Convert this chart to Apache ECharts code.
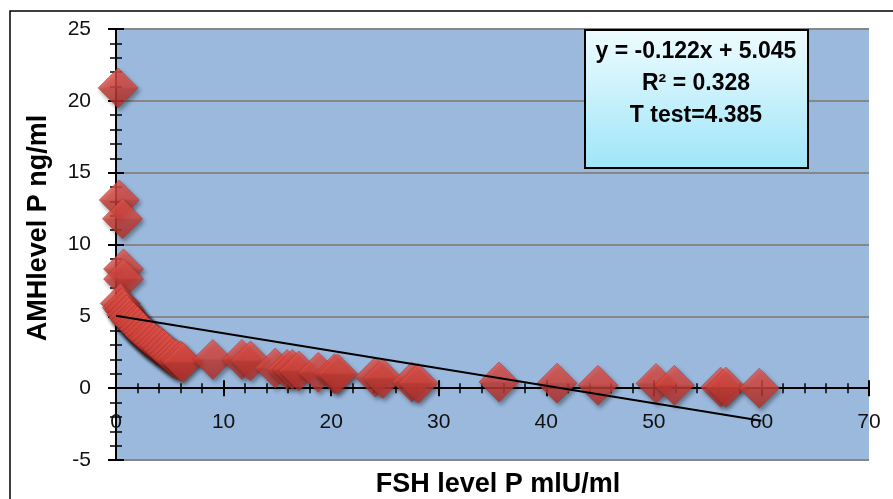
<!DOCTYPE html>
<html>
<head>
<meta charset="utf-8">
<script src="https://cdn.jsdelivr.net/npm/echarts@6/dist/echarts.min.js"></script>
<style>html,body{margin:0;padding:0;background:#fff}#c{width:893px;height:499px}</style>
</head>
<body>
<div id="c"></div>
<script>
// FSH (x) and AMH (y) values
var fshValues = [0.2, 0.3, 0.6, 0.7, 0.7,
  0.4, 0.6, 0.8, 1.0, 1.2, 1.4, 1.6, 1.8, 2.0, 2.2, 2.5, 2.7, 3.0, 3.2, 3.5, 3.8, 4.1, 4.4, 4.7, 5.0, 5.3, 5.6, 6.0, 6.2,
  9.0, 11.7, 12.5, 14.8, 15.9, 16.4, 17.0, 18.8, 20.3, 20.6, 24.1, 24.8, 27.5, 28.1, 35.6, 41.0, 44.8, 50.2, 51.9, 56.2, 56.7, 59.8];
var amhValues = [20.9, 13.1, 11.8, 8.3, 7.6,
  5.9, 5.6, 5.4, 5.1, 4.9, 4.7, 4.6, 4.4, 4.3, 4.1, 3.9, 3.7, 3.5, 3.4, 3.2, 3.0, 2.9, 2.7, 2.5, 2.3, 2.1, 2.0, 1.9, 1.8,
  2.0, 2.0, 1.9, 1.4, 1.3, 1.3, 1.2, 1.1, 1.0, 1.0, 0.77, 0.68, 0.43, 0.35, 0.43, 0.35, 0.2, 0.33, 0.2, 0.07, 0.07, 0.0];
// Linear trend line end points (y = -0.122x + 5.045)
var trendX = [0, 60];
var trendY = [5.045, -2.275];
var annotationLines = ['y = -0.122x + 5.045', 'R\u00b2 = 0.328', 'T test=4.385'];
var xTitle = 'FSH level P mlU/ml';
var yTitle = 'AMHlevel P ng/ml';

var scatterData = fshValues.map(function (x, i) { return [x, amhValues[i]]; });
var trendData = trendX.map(function (x, i) { return [x, trendY[i]]; });

var chart = echarts.init(document.getElementById('c'), null, {renderer: 'canvas'});
var FONT = 'Liberation Sans';
var baseX = {
  type: 'value', min: 0, max: 70, interval: 10,
  splitLine: {show: false}
};
var baseY = {
  type: 'value', min: -5, max: 25, interval: 5
};
var lineOnZero = {show: true, onZero: true, onZeroAxisIndex: 0, lineStyle: {color: '#000', width: 2}};
var option = {
  animation: false,
  backgroundColor: '#ffffff',
  grid: {left: 116, right: 24, top: 29, bottom: 39, show: true, backgroundColor: '#9bb9dd', borderWidth: 0},
  xAxis: [
    // labels only, raised next to the zero line
    Object.assign({}, baseX, {
      position: 'bottom',
      axisLine: {show: false, onZero: false},
      axisTick: {show: false},
      axisLabel: {show: true, margin: -48, color: '#111', fontFamily: FONT, fontSize: 21}
    }),
    Object.assign({}, baseX, {
      position: 'bottom',
      axisLine: lineOnZero,
      axisTick: {show: true, length: 8, lineStyle: {color: '#000', width: 2}},
      minorTick: {show: true, splitNumber: 5, length: 5, lineStyle: {color: '#000', width: 1.5}},
      axisLabel: {show: false}
    }),
    Object.assign({}, baseX, {
      position: 'top',
      axisLine: lineOnZero,
      axisTick: {show: true, length: 8, lineStyle: {color: '#000', width: 2}},
      minorTick: {show: true, splitNumber: 5, length: 5, lineStyle: {color: '#000', width: 1.5}},
      axisLabel: {show: false}
    })
  ],
  yAxis: [
    Object.assign({}, baseY, {
      position: 'left',
      axisLine: lineOnZero,
      axisTick: {show: true, length: 8, lineStyle: {color: '#000', width: 2}},
      minorTick: {show: true, splitNumber: 5, length: 6, lineStyle: {color: '#000', width: 1.5}},
      axisLabel: {show: true, margin: 25, color: '#111', fontFamily: FONT, fontSize: 21},
      splitLine: {show: true, lineStyle: {color: '#878787', width: 2}}
    }),
    Object.assign({}, baseY, {
      position: 'right',
      axisLine: lineOnZero,
      axisTick: {show: true, length: 8, lineStyle: {color: '#000', width: 2}},
      minorTick: {show: true, splitNumber: 5, length: 6, lineStyle: {color: '#000', width: 1.5}},
      axisLabel: {show: false},
      splitLine: {show: false}
    })
  ],
  series: [
    {
      type: 'scatter', xAxisIndex: 0, yAxisIndex: 0, clip: false, z: 3,
      symbol: 'diamond', symbolSize: 40,
      itemStyle: {
        color: new echarts.graphic.LinearGradient(0, 0, 0, 1, [
          {offset: 0, color: '#e8554d'},
          {offset: 0.48, color: '#da4840'},
          {offset: 0.52, color: '#c83d36'},
          {offset: 1, color: '#b4312c'}
        ]),
        borderColor: '#a52e28', borderWidth: 0.6,
        shadowBlur: 4, shadowColor: 'rgba(0,0,0,0.45)', shadowOffsetX: 2, shadowOffsetY: 3
      },
      data: scatterData
    },
    {
      type: 'line', xAxisIndex: 0, yAxisIndex: 0, z: 5, showSymbol: false, symbol: 'none',
      lineStyle: {color: '#000', width: 2},
      data: trendData
    }
  ],
  graphic: [
    {type: 'rect', z: 100, silent: true, shape: {x: 10, y: 11, width: 900, height: 500},
     style: {fill: 'none', stroke: '#000', lineWidth: 1.5}},
    {type: 'rect', z: 100, shape: {x: 585, y: 30, width: 223, height: 138},
     style: {
       fill: new echarts.graphic.LinearGradient(0, 0, 0, 1, [
         {offset: 0, color: '#effcff'}, {offset: 1, color: '#9ee5f8'}
       ]),
       stroke: '#000', lineWidth: 2
     }},
    {type: 'text', z: 101, x: 696, y: 52, style: {text: annotationLines[0], font: 'bold 23px "Liberation Sans"', fill: '#000', textAlign: 'center', textVerticalAlign: 'middle'}},
    {type: 'text', z: 101, x: 696, y: 84, style: {text: annotationLines[1], font: 'bold 23px "Liberation Sans"', fill: '#000', textAlign: 'center', textVerticalAlign: 'middle'}},
    {type: 'text', z: 101, x: 696, y: 116, style: {text: annotationLines[2], font: 'bold 23px "Liberation Sans"', fill: '#000', textAlign: 'center', textVerticalAlign: 'middle'}},
    {type: 'text', z: 101, x: 498, y: 485, style: {text: xTitle, font: 'bold 27px "Liberation Sans"', fill: '#000', textAlign: 'center', textVerticalAlign: 'middle'}},
    {type: 'text', z: 101, x: 39, y: 228, rotation: Math.PI / 2, style: {text: yTitle, font: 'bold 27px "Liberation Sans"', fill: '#000', textAlign: 'center', textVerticalAlign: 'middle'}}
  ]
};
chart.setOption(option);
</script>
</body>
</html>
